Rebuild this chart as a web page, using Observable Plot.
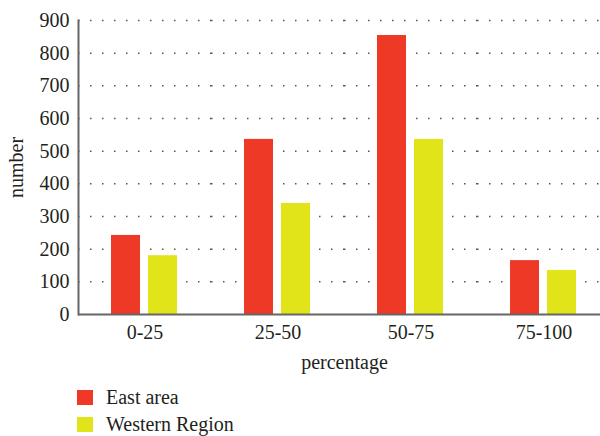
<!DOCTYPE html>
<html><head><meta charset="utf-8">
<script src="https://cdn.jsdelivr.net/npm/d3@7"></script>
<script src="https://cdn.jsdelivr.net/npm/@observablehq/plot@0.6"></script>
<style>
body{margin:0;background:#fff;overflow:hidden;font-family:"Liberation Serif","Times New Roman",Times,"DejaVu Serif",serif;color:#231f20;}
#legend{padding:4px 0 0 77px;}
.row{display:flex;align-items:center;height:27px;font-size:20px;}
.sw{width:16px;height:15px;margin-right:13px;}
svg text{font-family:"Liberation Serif","Times New Roman",Times,"DejaVu Serif",serif !important;}
</style></head><body><div id="chart"></div><div id="legend"></div>
<script>
const categories = ["0-25", "25-50", "50-75", "75-100"];
const series = ["East area", "Western Region"];
const eastValues = [242, 536, 854, 165];
const westValues = [180, 340, 536, 135];
const yTicks = [0, 100, 200, 300, 400, 500, 600, 700, 800, 900];
const colors = ["#ee3927", "#e2e41a"];
const serifStack = '"Liberation Serif", "Times New Roman", Times, "DejaVu Serif", serif';

const data = categories.flatMap((c, i) => [
  {category: c, series: series[0], value: eastValues[i]},
  {category: c, series: series[1], value: westValues[i]}
]);

const plot = Plot.plot({
  width: 600, height: 380,
  marginLeft: 77, marginRight: -10, marginTop: 20, marginBottom: 66,
  style: {fontFamily: serifStack, fontSize: "20px", color: "#231f20", background: "white", overflow: "hidden"},
  fx: {domain: categories, padding: 0},
  x: {domain: series, paddingInner: 8 / 38, paddingOuter: 0.8586, axis: null},
  y: {domain: [0, 900]},
  color: {domain: series, range: colors},
  marks: [
    Plot.ruleY(yTicks.filter(d => d > 0), {stroke: "#555", strokeWidth: 1.5, strokeDasharray: "1.5,10.5"}),
    Plot.barY(data, {fx: "category", x: "series", y: "value", fill: "series"}),
    Plot.ruleY([0], {stroke: "#666", strokeWidth: 2}),
    Plot.frame({anchor: "left", facetAnchor: "left", stroke: "#666", strokeWidth: 2}),
    Plot.axisY({ticks: yTicks, tickSize: 0, tickPadding: 9, fontSize: 20, fontFamily: serifStack, label: "number", labelAnchor: "center", labelArrow: "none", labelOffset: 70}),
    Plot.axisFx({anchor: "bottom", tickSize: 0, tickPadding: 10, fontSize: 20, fontFamily: serifStack, label: "percentage", labelAnchor: "center", labelOffset: 54})
  ]
});
document.getElementById("chart").appendChild(plot);

const legend = document.getElementById("legend");
series.forEach((s, i) => {
  const row = document.createElement("div");
  row.className = "row";
  const sw = document.createElement("div");
  sw.className = "sw";
  sw.style.background = colors[i];
  const label = document.createElement("span");
  label.textContent = s;
  row.appendChild(sw);
  row.appendChild(label);
  legend.appendChild(row);
});
</script></body></html>
